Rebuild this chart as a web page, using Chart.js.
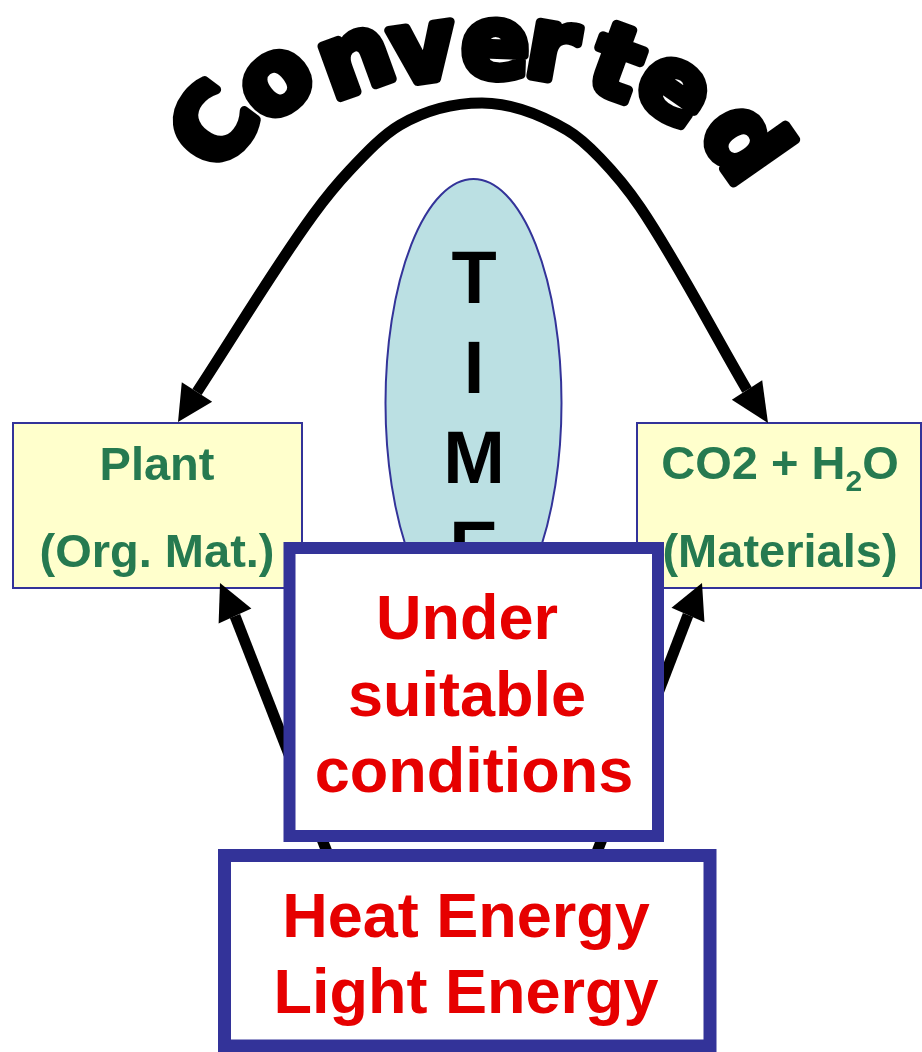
<!DOCTYPE html>
<html>
<head>
<meta charset="utf-8">
<script src="https://cdn.jsdelivr.net/npm/chart.js"></script>
<style>
html, body { margin: 0; padding: 0; background: #fff; }
#wrap { width: 922px; height: 1052px; }
</style>
</head>
<body>
<div id="wrap"><canvas id="diagram" width="922" height="1052"></canvas></div>
<script>
// big "Converted" arc, from the plant box over to the CO2 box
const arcX = [197, 313, 350, 400, 482, 567, 600, 640, 747]
const arcY = [392, 215, 170, 125, 103, 130, 158, 207, 390]
// the two short arrows coming up out of the energy box
const leftUpX = [327, 235]
const leftUpY = [852, 616]
const rightUpX = [597, 688]
const rightUpY = [852, 615]
// arrow tips (arc left, arc right, lower left, lower right)
const tipX = [178, 768, 220, 702]
const tipY = [422, 423, 583, 583]

const navy = '#333399'
const green = '#267A50'
const red = '#E60000'

const canvas = document.getElementById('diagram')

function px(chart, v) { return chart.scales.x.getPixelForValue(v) }
function py(chart, v) { return chart.scales.y.getPixelForValue(v) }

function box(chart, x0, y0, x1, y1, fill, lw) {
    const c = chart.ctx
    const a = px(chart, x0), b = py(chart, y0)
    const w = px(chart, x1) - a, h = py(chart, y1) - b
    c.save()
    c.fillStyle = fill
    c.fillRect(a, b, w, h)
    c.strokeStyle = navy
    c.lineWidth = lw
    c.lineJoin = 'miter'
    c.strokeRect(a, b, w, h)
    c.restore()
}

function text(chart, s, x, y, font, color) {
    const c = chart.ctx
    c.save()
    c.font = font
    c.fillStyle = color
    c.textAlign = 'center'
    c.textBaseline = 'alphabetic'
    c.fillText(s, px(chart, x), py(chart, y))
    c.restore()
}

function head(chart, dsIndex, end, tip) {
    const c = chart.ctx
    const pts = chart.getDatasetMeta(dsIndex).data
    const base = end === 0 ? pts[0] : pts[pts.length - 1]
    const tx = px(chart, tipX[tip]), ty = py(chart, tipY[tip])
    const dx = tx - base.x, dy = ty - base.y
    const len = Math.hypot(dx, dy)
    const nx = -dy / len * 18, ny = dx / len * 18
    c.save()
    c.fillStyle = '#000'
    c.beginPath()
    c.moveTo(tx, ty)
    c.lineTo(base.x + nx, base.y + ny)
    c.lineTo(base.x - nx, base.y - ny)
    c.closePath()
    c.fill()
    c.restore()
}

const letters = [
    ['C', 211, 125, -53], ['o', 277, 83, -38], ['n', 357, 62, -20],
    ['v', 423, 53, -8], ['e', 495, 49, 2], ['r', 556, 52, 10],
    ['t', 617, 62, 20], ['e', 673, 90, 35], ['d', 747, 138, 55]
]

const diagramPlugin = {
    id: 'diagram',
    beforeDatasetsDraw(chart) {
        const c = chart.ctx
        // yellow boxes
        box(chart, 13, 423, 302, 588, '#FFFFCC', 2)
        box(chart, 637, 423, 921, 588, '#FFFFCC', 2)
        const gf = 'bold 47px "Liberation Sans", Arial, sans-serif'
        text(chart, 'Plant', 157, 480, gf, green)
        text(chart, '(Org. Mat.)', 157, 567, gf, green)
        text(chart, '(Materials)', 780, 567, gf, green)
        // CO2 + H2O with subscript
        c.save()
        c.fillStyle = green
        c.textBaseline = 'alphabetic'
        c.textAlign = 'left'
        const sf = 'bold 30px "Liberation Sans", Arial, sans-serif'
        c.font = gf
        const w1 = c.measureText('CO2 + H').width
        const w3 = c.measureText('O').width
        c.font = sf
        const w2 = c.measureText('2').width
        let x = px(chart, 780) - (w1 + w2 + w3) / 2
        const yb = py(chart, 479)
        c.font = gf
        c.fillText('CO2 + H', x, yb)
        x += w1
        c.font = sf
        c.fillText('2', x, yb + 12)
        x += w2
        c.font = gf
        c.fillText('O', x, yb)
        c.restore()

        // TIME ellipse
        c.save()
        c.beginPath()
        c.ellipse(px(chart, 473.5), py(chart, 403), 88, 224, 0, 0, Math.PI * 2)
        c.fillStyle = '#BBE0E3'
        c.fill()
        c.lineWidth = 2
        c.strokeStyle = navy
        c.stroke()
        c.restore()
        const tf = 'bold 74px "Liberation Sans", Arial, sans-serif'
        ;['T', 'I', 'M', 'E'].forEach((ch, i) => text(chart, ch, 474, 303 + i * 90, tf, '#000'))

        // arched "Converted"
        c.save()
        c.font = 'bold 100px "DejaVu Sans", sans-serif'
        c.textAlign = 'left'
        c.textBaseline = 'alphabetic'
        c.fillStyle = '#000'
        c.strokeStyle = '#000'
        c.lineWidth = 9
        c.lineJoin = 'round'
        letters.forEach(([ch, lx, ly, deg]) => {
            const m = c.measureText(ch)
            const cx = (m.actualBoundingBoxRight - m.actualBoundingBoxLeft) / 2
            const cy = (m.actualBoundingBoxDescent - m.actualBoundingBoxAscent) / 2
            c.save()
            c.translate(px(chart, lx), py(chart, ly))
            c.rotate(deg * Math.PI / 180)
            c.fillText(ch, -cx, -cy)
            c.strokeText(ch, -cx, -cy)
            c.restore()
        })
        c.restore()
    },
    afterDatasetsDraw(chart) {
        head(chart, 0, 0, 0)
        head(chart, 0, 1, 1)
        head(chart, 1, 1, 2)
        head(chart, 2, 1, 3)

        box(chart, 289.5, 548, 658, 836, '#FFFFFF', 12)
        box(chart, 224.5, 855.5, 710, 1046, '#FFFFFF', 13)

        const rf = 'bold 63px "Liberation Sans", Arial, sans-serif'
        text(chart, 'Under', 467, 639, rf, red)
        text(chart, 'suitable', 467, 716, rf, red)
        text(chart, 'conditions', 474, 792, rf, red)
        text(chart, 'Heat Energy', 466, 937, rf, red)
        text(chart, 'Light Energy', 466, 1013, rf, red)
    }
}

function pts(xs, ys) { return xs.map((x, i) => ({ x: x, y: ys[i] })) }

const diagram = new Chart(canvas, {
    type: 'scatter',
    data: {
        datasets: [{
            data: pts(arcX, arcY),
            showLine: true,
            borderColor: '#000',
            borderWidth: 11,
            pointRadius: 0,
            cubicInterpolationMode: 'monotone'
        }, {
            data: pts(leftUpX, leftUpY),
            showLine: true,
            borderColor: '#000',
            borderWidth: 11,
            pointRadius: 0
        }, {
            data: pts(rightUpX, rightUpY),
            showLine: true,
            borderColor: '#000',
            borderWidth: 11,
            pointRadius: 0
        }]
    },
    options: {
        responsive: false,
        animation: false,
        events: [],
        layout: { padding: 0, autoPadding: false },
        plugins: { legend: { display: false }, tooltip: { enabled: false } },
        scales: {
            x: { type: 'linear', min: 0, max: 922, display: false },
            y: { type: 'linear', min: 0, max: 1052, reverse: true, display: false }
        }
    },
    plugins: [diagramPlugin]
})
</script>
</body>
</html>
